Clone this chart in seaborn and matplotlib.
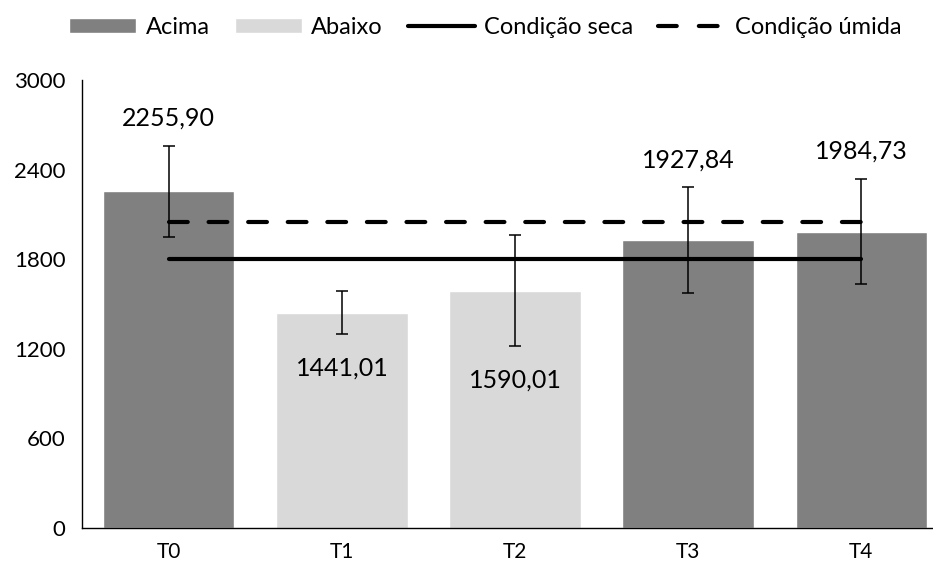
import matplotlib
matplotlib.use("Agg")
import matplotlib.pyplot as plt
import seaborn as sns
import pandas as pd
from matplotlib.patches import Patch
from matplotlib.lines import Line2D

# data
tratamentos = ["T0", "T1", "T2", "T3", "T4"]
valores = [2255.90, 1441.01, 1590.01, 1927.84, 1984.73]
erros = [305, 145, 374, 353, 351]
grupo = ["Acima", "Abaixo", "Abaixo", "Acima", "Acima"]
rotulos = ["2255,90", "1441,01", "1590,01", "1927,84", "1984,73"]
cond_seca = 1800
cond_umida = 2050

cores = {"Acima": "#808080", "Abaixo": "#d9d9d9"}

df = pd.DataFrame({"trat": tratamentos, "valor": valores, "grupo": grupo})

sns.set_style("white")
plt.rcParams["font.family"] = ["Lato", "DejaVu Sans"]
plt.rcParams["text.color"] = "black"
plt.rcParams["xtick.color"] = "black"
plt.rcParams["ytick.color"] = "black"

fig = plt.figure(figsize=(9.33, 5.68), dpi=100)
ax = fig.add_axes([0.088, 0.0704, 0.912, 0.7887])

sns.barplot(data=df, x="trat", y="valor", hue="grupo", palette=cores,
            dodge=False, width=0.76, legend=False, ax=ax, saturation=1)

xs = list(range(len(tratamentos)))
ax.errorbar(xs, valores, yerr=erros, fmt="none", ecolor="black",
            elinewidth=1.1, capsize=4.3, capthick=1.1, zorder=4)

ax.plot([xs[0], xs[-1]], [cond_seca, cond_seca], color="black", lw=3,
        solid_capstyle="round", zorder=3)
ax.plot([xs[0], xs[-1]], [cond_umida, cond_umida], color="black", lw=3,
        dashes=(4.5, 5.0), dash_capstyle="round", zorder=3)

# data labels: above the error bar for "Acima", below it for "Abaixo"
for x, v, e, g, r in zip(xs, valores, erros, grupo, rotulos):
    if g == "Acima":
        ax.annotate(r, (x, v + e), xytext=(0, 20), textcoords="offset points",
                    ha="center", va="center", fontsize=18)
    else:
        ax.annotate(r, (x, v - e), xytext=(0, -24), textcoords="offset points",
                    ha="center", va="center", fontsize=18)

ax.set_ylim(0, 3000)
ax.set_xlim(-0.5, 4.414)
ax.set_yticks([0, 600, 1200, 1800, 2400, 3000])
ax.set_xlabel("")
ax.set_ylabel("")
ax.tick_params(axis="y", length=5, width=1, color="black", labelsize=16, pad=7)
ax.tick_params(axis="x", length=0, labelsize=15, pad=10)
for s in ["top", "right"]:
    ax.spines[s].set_visible(False)
for s in ["left", "bottom"]:
    ax.spines[s].set_color("black")
    ax.spines[s].set_linewidth(1)

handles = [
    Patch(facecolor=cores["Acima"], label="Acima"),
    Patch(facecolor=cores["Abaixo"], label="Abaixo"),
    Line2D([], [], color="black", lw=3, solid_capstyle="round", label="Condição seca"),
    Line2D([], [], color="black", lw=3, dashes=(4.5, 5.3), dash_capstyle="round",
           label="Condição úmida"),
]
fig.legend(handles=handles, loc="center left", bbox_to_anchor=(0.074, 0.952), ncol=4,
           frameon=False, fontsize=17, handlelength=2.85, handleheight=0.63,
           handletextpad=0.4, columnspacing=1.05, borderpad=0, borderaxespad=0)

fig.savefig("out.png", dpi=100)
